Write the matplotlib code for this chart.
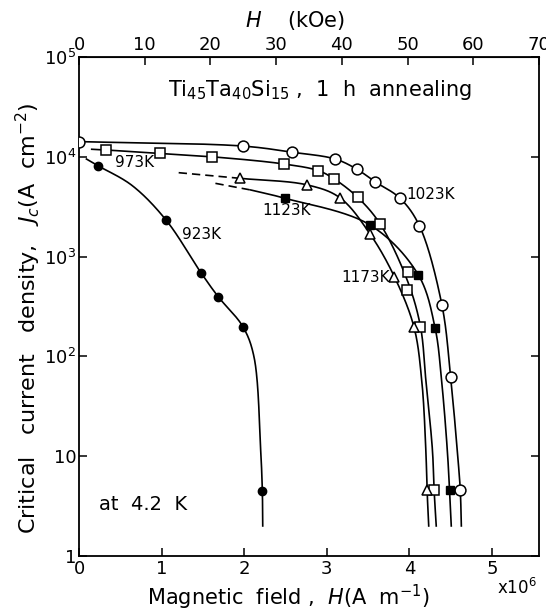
import numpy as np
import matplotlib
matplotlib.use('Agg')
import matplotlib.pyplot as plt
from matplotlib.ticker import FixedLocator, FixedFormatter, NullLocator

plt.rcParams['font.family'] = 'DejaVu Sans'
plt.rcParams['mathtext.fontset'] = 'dejavusans'

# H in units of 1e6 A/m, Jc in A/cm^2, markers
h_923 = [0.227, 1.053, 1.482, 1.685, 1.984, 2.22]
jc_923 = [8150, 2330, 680, 397, 199, 4.5]
h_973 = [0.328, 0.976, 1.612, 2.482, 2.90, 3.09, 3.374, 3.649, 3.98, 3.97, 4.135, 4.30]
jc_973 = [11700, 10800, 10000, 8470, 7260, 6000, 3930, 2110, 706, 462, 199, 4.6]
h_1023 = [0.0, 1.99, 2.584, 3.102, 3.366, 3.584, 3.888, 4.123, 4.395, 4.50, 4.617]
jc_1023 = [14200, 12800, 11100, 9500, 7500, 5630, 3840, 2030, 327, 62.6, 4.6]
h_1123 = [2.494, 3.524, 4.11, 4.313, 4.487]
jc_1123 = [3840, 2074, 654, 191, 4.6]
h_1173 = [1.947, 2.767, 3.159, 3.527, 3.819, 4.055, 4.21]
jc_1173 = [6090, 5220, 3890, 1672, 629, 199, 4.6]

# hand-drawn guide curves (knots)
c923_h = [0.09, 0.227, 0.64, 1.053, 1.482, 1.685, 1.984, 2.118, 2.20, 2.22, 2.225]
c923_j = [9500, 8150, 5180, 2330, 680, 397, 199, 100, 11.5, 4.5, 2.0]
c973_h = [0.154, 0.328, 0.976, 1.612, 2.482, 2.90, 3.09, 3.374, 3.649, 3.975, 4.135, 4.20, 4.28, 4.30, 4.326]
c973_j = [11900, 11700, 10800, 10000, 8470, 7260, 6000, 3930, 2110, 580, 199, 58, 11.5, 4.6, 2.0]
c1023_h = [0.0, 1.99, 2.584, 3.102, 3.366, 3.584, 3.888, 4.123, 4.395, 4.50, 4.58, 4.617, 4.63]
c1023_j = [14200, 12800, 11100, 9500, 7500, 5630, 3840, 2030, 327, 62.6, 11.5, 4.6, 2.0]
c1123_h = [2.08, 2.494, 3.524, 4.11, 4.313, 4.39, 4.46, 4.487, 4.508]
c1123_j = [4650, 3840, 2074, 654, 191, 58, 11.5, 4.6, 2.0]
d1123_h = [1.652, 2.08]
d1123_j = [5420, 4650]
c1173_h = [1.947, 2.767, 3.159, 3.527, 3.819, 4.055, 4.15, 4.20, 4.215, 4.235]
c1173_j = [6090, 5220, 3890, 1672, 629, 199, 58, 11.5, 4.6, 2.0]
d1173_h = [1.207, 1.947]
d1173_j = [6930, 6090]


def smooth(hs, js, n=40):
    # centripetal catmull-rom in roughly pixel-isotropic space
    P = np.column_stack([np.array(hs) * 82.3, np.log10(js) * 99.8])
    P = np.vstack([2 * P[0] - P[1], P, 2 * P[-1] - P[-2]])
    out = []
    for i in range(1, len(P) - 2):
        p0, p1, p2, p3 = P[i - 1], P[i], P[i + 1], P[i + 2]
        t0 = 0.0
        t1 = t0 + np.linalg.norm(p1 - p0) ** 0.5 + 1e-9
        t2 = t1 + np.linalg.norm(p2 - p1) ** 0.5 + 1e-9
        t3 = t2 + np.linalg.norm(p3 - p2) ** 0.5 + 1e-9
        t = np.linspace(t1, t2, n)[:, None]
        a1 = (t1 - t) / (t1 - t0) * p0 + (t - t0) / (t1 - t0) * p1
        a2 = (t2 - t) / (t2 - t1) * p1 + (t - t1) / (t2 - t1) * p2
        a3 = (t3 - t) / (t3 - t2) * p2 + (t - t2) / (t3 - t2) * p3
        b1 = (t2 - t) / (t2 - t0) * a1 + (t - t0) / (t2 - t0) * a2
        b2 = (t3 - t) / (t3 - t1) * a2 + (t - t1) / (t3 - t1) * a3
        c = (t2 - t) / (t2 - t1) * b1 + (t - t1) / (t2 - t1) * b2
        out.append(c)
    out = np.vstack(out)
    return out[:, 0] / 82.3, 10 ** (out[:, 1] / 99.8)


fig = plt.figure(figsize=(5.46, 6.11), dpi=100)
ax = fig.add_axes([79 / 546, 55 / 611, 460 / 546, 499 / 611])

lw = 1.2
for hh, jj in [(c923_h, c923_j), (c973_h, c973_j), (c1023_h, c1023_j),
               (c1123_h, c1123_j), (c1173_h, c1173_j)]:
    x, y = smooth(hh, jj)
    ax.plot(x, y, color='black', lw=lw, zorder=2)
for hh, jj in [(d1123_h, d1123_j), (d1173_h, d1173_j)]:
    ax.plot(hh, jj, color='black', lw=lw, ls=(0, (5, 3)), zorder=2)

ax.plot(h_923, jc_923, 'o', ms=6, mfc='black', mec='black', zorder=3)
ax.plot(h_973, jc_973, 's', ms=6.5, mfc='white', mec='black', mew=1.1, zorder=3)
ax.plot(h_1023, jc_1023, 'o', ms=7.8, mfc='white', mec='black', mew=1.1, zorder=3)
ax.plot(h_1123, jc_1123, 's', ms=5.5, mfc='black', mec='black', zorder=3)
ax.plot(h_1173, jc_1173, '^', ms=7.5, mfc='white', mec='black', mew=1.1, zorder=3)

ax.set_xlim(0, 70 * 79577.47 / 1e6)
ax.set_yscale('log')
ax.set_ylim(1, 1e5)

ax.xaxis.set_major_locator(FixedLocator([0, 1, 2, 3, 4, 5]))
ax.yaxis.set_major_locator(FixedLocator([1, 10, 100, 1e3, 1e4, 1e5]))
ax.yaxis.set_major_formatter(FixedFormatter(['1', '10', '10$^2$', '10$^3$', '10$^4$', '10$^5$']))
ax.yaxis.set_minor_locator(NullLocator())
ax.tick_params(direction='in', length=6, width=1.1, labelsize=13, right=True, pad=3)
ax.tick_params(axis='y', pad=2)
for s in ax.spines.values():
    s.set_linewidth(1.3)

sec = ax.secondary_xaxis('top', functions=(lambda x: x * 1e6 / 79577.47,
                                           lambda k: k * 79577.47 / 1e6))
sec.xaxis.set_major_locator(FixedLocator([0, 10, 20, 30, 40, 50, 60, 70]))
sec.tick_params(direction='in', length=6, width=1.1, labelsize=13, pad=2)

fig.text(320 / 546, 1 - 90 / 611, 'Ti$_{45}$Ta$_{40}$Si$_{15}$ ,  1  h  annealing',
         ha='center', va='center', fontsize=15)
fig.text(99 / 546, 1 - 505 / 611, 'at  4.2  K', ha='left', va='center', fontsize=14)

# curve labels
lab = dict(fontsize=11, va='center')
ax.text((115 - 79) / 82.3, 10 ** ((556 - 163) / 99.8), '973K', **lab)
ax.text((182 - 79) / 82.3, 10 ** ((556 - 235) / 99.8), '923K', **lab)
ax.text((262 - 79) / 82.3, 10 ** ((556 - 211) / 99.8), '1123K', **lab)
ax.text((405 - 79) / 82.3, 10 ** ((556 - 195) / 99.8), '1023K', **lab)
ax.text((389 - 79) / 82.3, 10 ** ((556 - 278) / 99.8), '1173K', ha='right', **lab)

fig.text(288 / 546, 1 - 597 / 611, 'Magnetic  field ,  $H$(A  m$^{-1}$)',
         ha='center', va='center', fontsize=15)
fig.text(517 / 546, 1 - 588 / 611, 'x10$^6$', ha='center', va='center', fontsize=12)
fig.text(295 / 546, 1 - 20 / 611, '$H$    (kOe)', ha='center', va='center', fontsize=15)
fig.text(28 / 546, 1 - 318 / 611, 'Critical   current   density,   $J_c$(A  cm$^{-2}$)',
         ha='center', va='center', rotation=90, fontsize=16)

fig.savefig('out.png', dpi=100)
